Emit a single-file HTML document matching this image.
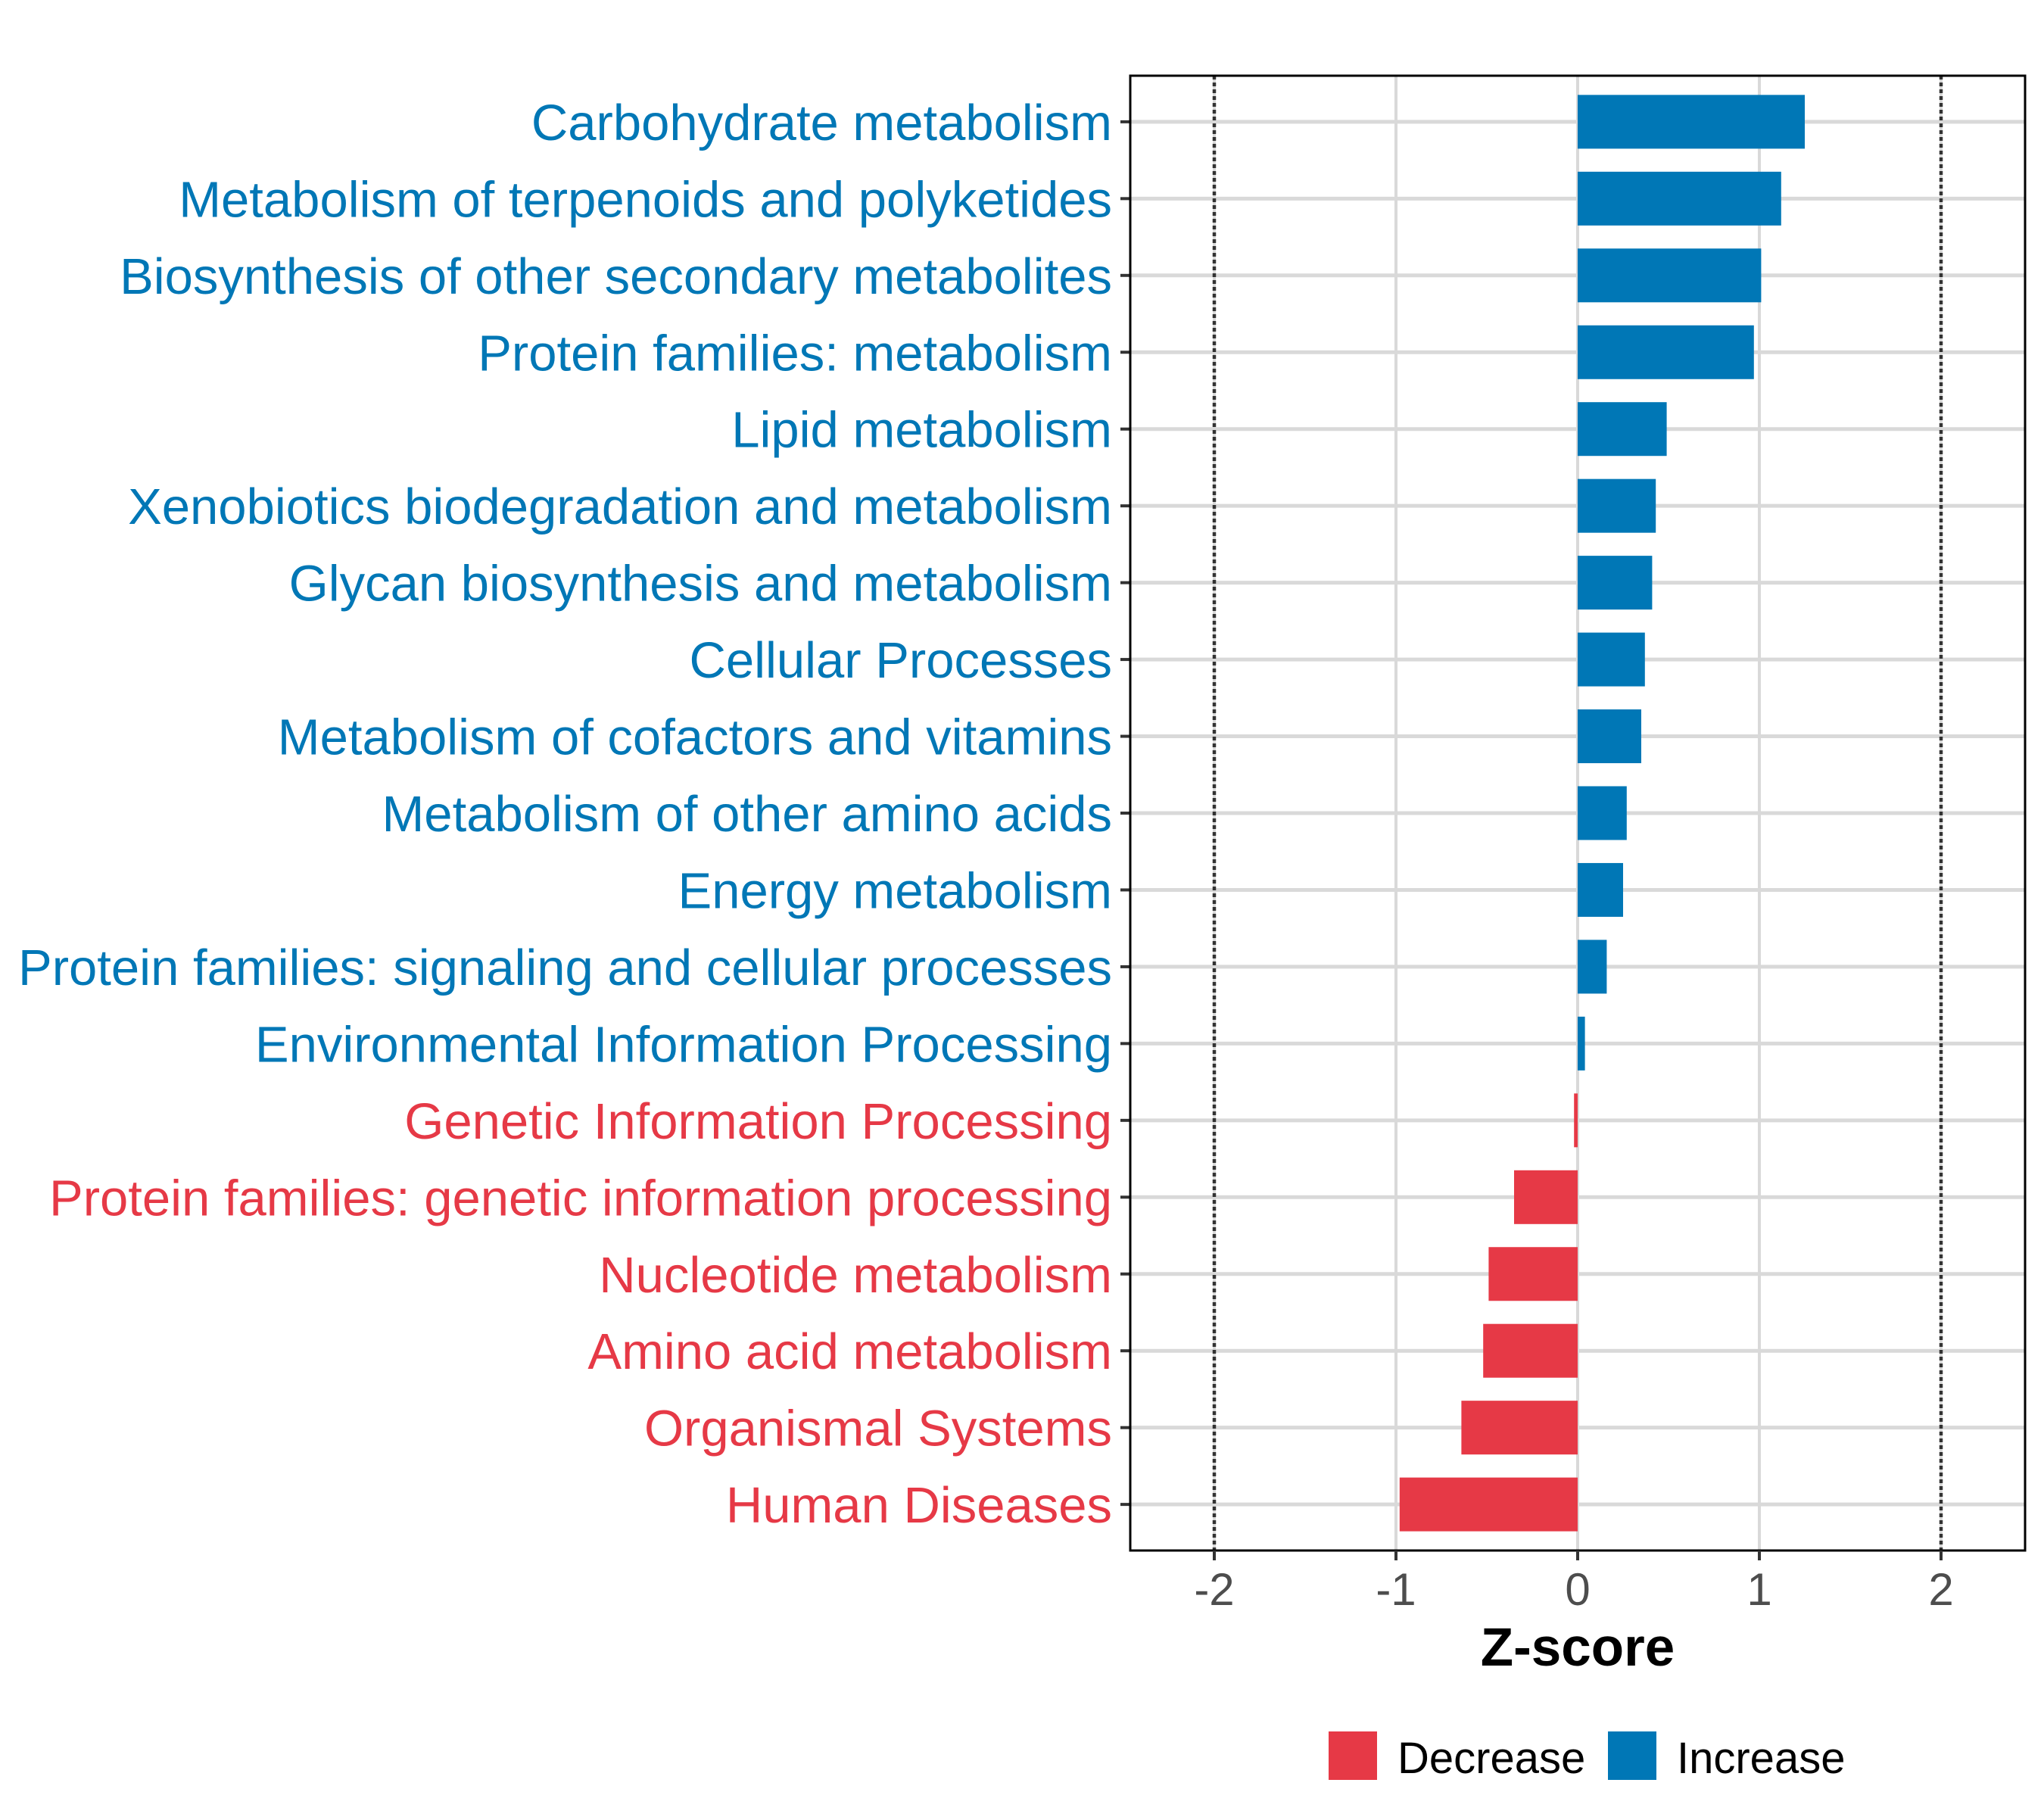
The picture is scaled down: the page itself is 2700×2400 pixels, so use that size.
<!DOCTYPE html>
<html><head><meta charset="utf-8"><style>
html,body{margin:0;padding:0;background:#fff;}
svg{display:block;font-family:"Liberation Sans",Arial,sans-serif;}
</style></head><body>
<svg id="chart" width="2700" height="2400" viewBox="0 0 2700 2400" xmlns="http://www.w3.org/2000/svg">
<g id="grid"></g>
<g id="bars"></g>
<g id="ylabels"></g>
<g id="xaxis"></g>
<text x="2084" y="2200" text-anchor="middle" font-size="71" font-weight="bold" fill="#000">Z-score</text>
<g>
<rect x="1755" y="2287" width="64" height="64" fill="#E63946"/>
<text x="1846" y="2342" font-size="58" fill="#000">Decrease</text>
<rect x="2124" y="2287" width="64" height="64" fill="#0077B6"/>
<text x="2215" y="2342" font-size="58" fill="#000">Increase</text>
</g>
</svg>
<script>
const categories = ["Carbohydrate metabolism","Metabolism of terpenoids and polyketides","Biosynthesis of other secondary metabolites","Protein families: metabolism","Lipid metabolism","Xenobiotics biodegradation and metabolism","Glycan biosynthesis and metabolism","Cellular Processes","Metabolism of cofactors and vitamins","Metabolism of other amino acids","Energy metabolism","Protein families: signaling and cellular processes","Environmental Information Processing","Genetic Information Processing","Protein families: genetic information processing","Nucleotide metabolism","Amino acid metabolism","Organismal Systems","Human Diseases"];
const zscores = [1.25,1.12,1.01,0.97,0.49,0.43,0.41,0.37,0.35,0.27,0.25,0.16,0.04,-0.02,-0.35,-0.49,-0.52,-0.64,-0.98];
const xTicks = [-2,-1,0,1,2];
const xTickLabels = ["-2","-1","0","1","2"];

const NS="http://www.w3.org/2000/svg";
const L=1493,R=2675,T=100,B=2048,X0=2084,U=240;
const xs=v=>X0+v*U;
const step=(B-T)/(categories.length-1+1.2);
const ys=i=>T+step*(0.6+i);
const BLUE="#0077B6",RED="#E63946";
function mk(tag,attrs,parent){const e=document.createElementNS(NS,tag);for(const k in attrs)e.setAttribute(k,attrs[k]);parent.appendChild(e);return e;}
const grid=document.getElementById('grid'),bars=document.getElementById('bars'),yl=document.getElementById('ylabels'),xa=document.getElementById('xaxis');
mk('rect',{x:L,y:T,width:R-L,height:B-T,fill:'#fff'},grid);
xTicks.forEach((t,i)=>{
  const g=mk('line',{x1:xs(t),x2:xs(t),y1:T,y2:B,stroke:'#D9D9D9','stroke-width':4},grid);
  
  
});
categories.forEach((c,i)=>{
  const g=mk('line',{x1:L,x2:R,y1:ys(i),y2:ys(i),stroke:'#D9D9D9','stroke-width':5},grid);
  
  
});
categories.forEach((c,i)=>{
  const v=zscores[i];const col=v>=0?BLUE:RED;
  const h=step*0.7;
  const r=mk('rect',{x:Math.min(xs(0),xs(v)),y:ys(i)-h/2,width:Math.abs(xs(v)-xs(0)),height:h,fill:col},bars);
  
  
  const t=mk('text',{x:1469,y:ys(i)+24,'text-anchor':'end','font-size':67,fill:col},yl);
  t.textContent=c;
  
  
  const tk=mk('line',{x1:1480,x2:L,y1:ys(i),y2:ys(i),stroke:'#333','stroke-width':4},yl);
  
  
});
[-2,2].forEach(v=>{
  const d=mk('line',{x1:xs(v),x2:xs(v),y1:T,y2:B,stroke:'#333','stroke-width':4.5,'stroke-dasharray':'5 4'},bars);
  
  
});
const fr=mk('rect',{x:L,y:T,width:R-L,height:B-T,fill:'none',stroke:'#000','stroke-width':3},xa);


xTicks.forEach((t,i)=>{
  const tk=mk('line',{x1:xs(t),x2:xs(t),y1:B,y2:B+13,stroke:'#333','stroke-width':4},xa);
  
  
  const lb=mk('text',{x:xs(t),y:2120,'text-anchor':'middle','font-size':60,fill:'#4D4D4D'},xa);
  lb.textContent=xTickLabels[i];
  
  
});
</script>
</body></html>
